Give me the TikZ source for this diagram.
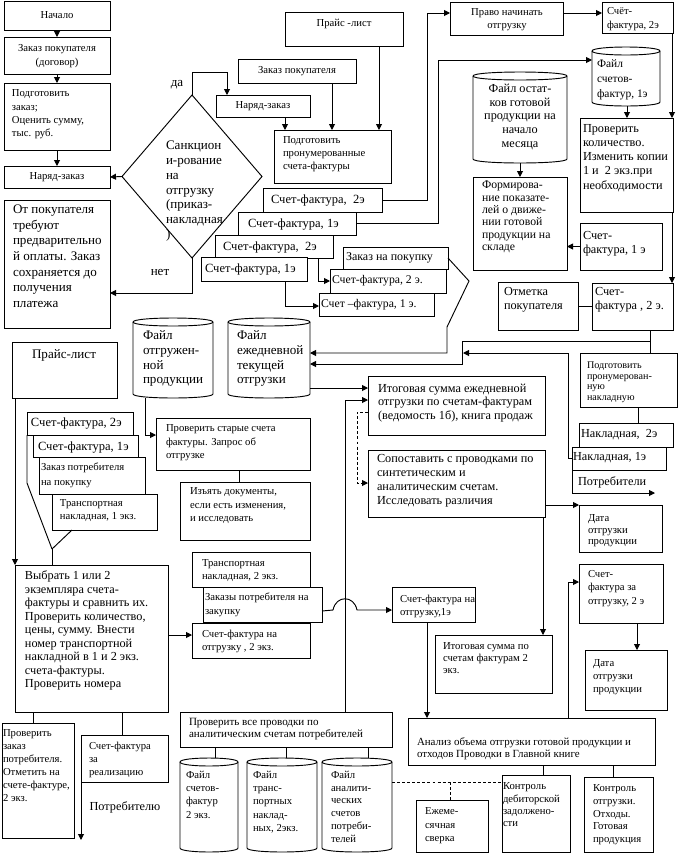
\documentclass[tikz,border=0pt]{standalone}
\usepackage{fontspec}
\setmainfont{Liberation Serif}
\usetikzlibrary{arrows.meta,shapes.geometric}
\newcommand\F[2]{\fontsize{#1}{#2}\selectfont}
\newcommand\bx[5]{\node[bx,minimum width={(#4-#2)*0.75pt},minimum height={(#5-#3)*0.75pt}] (#1) at (#2,#3) {};}
\newcommand\cyl[5]{%
  \node[cb,minimum width={(#4-#2)*0.75pt},minimum height={(#5-#3)*0.75pt}] (#1) at (#2,#3) {};
  \draw[ln,fill=white] (#2,#3+4) -- (#2,#5-4) .. controls (#2,#5+1.33) and (#4,#5+1.33) .. (#4,#5-4) -- (#4,#3+4) .. controls (#4,#3-1.33) and (#2,#3-1.33) .. (#2,#3+4);
  \draw[ln] (#2,#3+4) .. controls (#2,#3+9.33) and (#4,#3+9.33) .. (#4,#3+4);
}
\newcommand\tx[5]{\node[tx,font=#1] (#2) at (#3,#4) {#5};}
\newcommand\ct[5]{\node[ctx,font=#1] (#2) at (#3,#4) {#5};}
\newcommand\tw[5]{\node[tx,anchor=west,font=#1] (#2) at (#3,#4) {#5};}
\begin{document}
\begin{tikzpicture}[x=0.75pt,y=-0.75pt,
  ln/.style={line width=0.7pt},
  bx/.style={draw,fill=white,line width=0.7pt,inner sep=0,outer sep=0,anchor=north west},
  cb/.style={inner sep=0,outer sep=0,anchor=north west},
  tx/.style={inner sep=0,outer sep=0,anchor=north west,align=left},
  ctx/.style={inner sep=0,outer sep=0,anchor=center,align=center},
  arr/.style={line width=0.7pt,-{Triangle[length=4.5pt,width=4.5pt]}},
  dsh/.style={line width=0.7pt,dash pattern=on 2.2pt off 1.6pt}]
\useasboundingbox (0,0) rectangle (678,854);
\fill[white] (0,0) rectangle (678,854);

% ---------- boxes ----------
\bx{nacalo}{4}{1}{110}{30}
\bx{zak1}{4}{37}{110}{74}
\bx{podg1}{4}{83}{110}{150}
\bx{nar1}{4}{166}{110}{188}
\bx{otpok}{4}{200}{110}{328}
\node[diamond,draw,fill=white,line width=0.7pt,inner sep=0,outer sep=0,minimum width=105pt,minimum height=122.25pt] (dia) at (192,176.5) {};
\bx{nar2}{216}{95}{310}{117}
\bx{zak2}{238}{59}{356}{83}
\bx{price1}{285}{12}{403}{46}
\bx{podg2}{274}{130}{391}{183}
\bx{a1}{263}{188}{382}{212}
\bx{a2}{238}{212}{356}{235}
\bx{a3}{215}{235}{333}{258}
\bx{a4}{201}{257}{307}{281}
\bx{b1}{343}{247}{448}{269}
\bx{b2}{330}{269}{446}{293}
\bx{b3}{319}{293}{434}{316}
\bx{pravo}{450}{2}{563}{35}
\bx{sf2top}{602}{2}{673}{33}
\cyl{fsf}{592}{47}{660}{106}
\cyl{fost}{473}{72}{567}{163}
\bx{form}{473}{177}{567}{270}
\bx{provkol}{580}{118}{673}{212}
\bx{sf1r}{580}{223}{662}{270}
\bx{otm}{498}{282}{578}{330}
\bx{sf2low}{592}{283}{673}{330}
\bx{podgnak}{580}{353}{677}{407}
\bx{nak2}{579}{423}{673}{447}
\bx{nak1}{572}{447}{666}{470}
\bx{data1}{579}{505}{662}{552}
\cyl{fo}{133}{318}{213}{398}
\cyl{fe}{228}{318}{310}{398}
\bx{itog1}{368}{376}{545}{435}
\bx{sopost}{368}{450}{545}{517}
\bx{price2}{12}{342}{117}{398}
\bx{c1}{27}{412}{133}{435}
\bx{c2}{33}{435}{138}{457}
\bx{c3}{39}{457}{145}{494}
\bx{c4}{52}{494}{157}{530}
\bx{check}{156}{418}{310}{470}
\bx{izyat}{180}{482}{310}{540}
\bx{tn2}{192}{552}{310}{587}
\bx{zakazy}{203}{587}{322}{622}
\bx{sfo2}{192}{623}{310}{658}
\bx{vib}{15}{565}{168}{712}
\bx{provzak}{2}{723}{74}{838}
\bx{sfreal}{81}{735}{168}{782}
\bx{provall}{180}{712}{392}{747}
\cyl{fa1}{180}{758}{238}{852}
\cyl{fa2}{247}{758}{317}{852}
\cyl{fa3}{322}{758}{392}{852}
\bx{ezh}{416}{800}{488}{852}
\bx{kdeb}{502}{775}{570}{852}
\bx{kotgr}{584}{777}{653}{852}
\bx{analiz}{408}{718}{655}{765}
\bx{itog2}{435}{635}{552}{693}
\bx{sf1e}{392}{587}{475}{622}
\bx{sfotgr}{579}{564}{663}{623}
\bx{data2}{585}{650}{667}{710}

\coordinate (j1) at (650,341);
\coordinate (j2) at (463,353);
\coordinate (j3) at (52,549);
\coordinate (j4) at (450,782);
\coordinate (potr) at (81,840);
\coordinate (potr2) at (655,493);

% ---------- connectors ----------
\draw[arr] (nacalo.south) -- (zak1.north);
\draw[arr] (zak1.south) -- (podg1.north);
\draw[arr] (podg1.south) -- (nar1.north);
\draw[arr] (dia.west) -- (nar1.east);
\draw[arr] (dia.north) |- (227,72) -- (nar2.north -| 227,0);
\draw[arr] (dia.south) |- (otpok.east |- 0,293);
\draw[arr] (nar2.south -| 285,0) -- (podg2.north -| 285,0);
\draw[arr] (zak2.south -| 332,0) -- (podg2.north -| 332,0);
\draw[arr] (price1.south -| 379,0) -- (podg2.north -| 379,0);
\draw[arr] (a1.east) -| (427,13) -- (pravo.west |- 0,13);
\draw[arr] (pravo.east |- 0,13) -- (sf2top.west |- 0,13);
\draw[arr] (a2.east) -| (438,60) -- (fsf.west |- 0,60);
\draw[arr] (a3.south -| 318,0) |- (b2.west);
\draw[arr] (a4.south -| 285,0) |- (b3.west |- 0,306);
\draw[arr] (b1.east) -- (469,281) -- (447,327) -- (447,353) -- (fe.east |- 0,353);
\draw[ln] (sf2low.south -| j1) -- (podgnak.north -| j1);
\draw[arr] (j1) -| (462,364) -- (fe.east |- 0,364);
\draw[arr] (nak1.west) -| (568,353) -- (j2);
\draw[arr] (fe.east |- 0,388) -- (itog1.west |- 0,388);
\draw[arr] (provall.north -| 345,0) |- (itog1.west |- 0,400);
\draw[arr,dsh] (itog1.west |- 0,412) -| (357,483) -- (sopost.west |- 0,483);
\draw[arr] (sopost.east |- 0,505) -- (data1.west |- 0,505);
\draw[arr] (sopost.south -| 543,0) -- (itog2.north -| 543,0);
\draw[arr] (analiz.north -| 568,0) |- (sfotgr.west |- 0,582);
\draw[arr] (sfotgr.south -| 637,0) -- (data2.north -| 637,0);
\draw[arr] (sf1e.south -| 427,0) -- (analiz.north -| 427,0);
\draw[arr] (zakazy.east |- 0,611) -- (333,610) .. controls (336,595) and (354,595) .. (357,610) -- (sf1e.west |- 0,610);
\draw[arr] (vib.east |- 0,635) -- (sfo2.west |- 0,635);
\draw[arr] (price2.south -| 15,0) -- (vib.north -| 15,0);
\draw[ln] (c1.south west) -- (27,483) -- (j3);
\draw[ln] (c4.south -| 72,0) -- (j3);
\draw[ln] (j3) -- (vib.north -| j3);
\draw[arr] (fo.south -| 145,0) |- (check.west |- 0,435);
\draw[ln] (check.south -| 239,0) -- (izyat.north -| 239,0);
\draw[ln] (vib.south -| 33,0) -- (provzak.north -| 33,0);
\draw[ln] (vib.south -| 122,0) -- (sfreal.north -| 122,0);
\draw[arr] (sfreal.south west) -- (potr);
\draw[ln] (provall.south -| 215,0) -- (fa1.north -| 215,0);
\draw[ln] (provall.south -| 286,0) -- (fa2.north -| 286,0);
\draw[ln] (provall.south -| 368,0) -- (fa3.north -| 368,0);
\draw[dsh] (fa3.east |- 0,782) -- (kdeb.west |- 0,782);
\draw[dsh] (j4) -- (ezh.north -| j4);
\draw[ln] (analiz.south -| 543,0) -- (kdeb.north -| 543,0);
\draw[ln] (analiz.south -| 613,0) -- (kotgr.north -| 613,0);
\draw[arr] (fsf.south -| 627,0) -- (provkol.north -| 627,0);
\draw[arr] (sf2top.south -| 672,0) -- (provkol.north -| 672,0);
\draw[arr] (provkol.south -| 672,0) -- (sf2low.north -| 672,0);
\draw[arr] (fost.south) -- (form.north);
\draw[arr] (sf1r.west) -- (form.east |- sf1r.west);
\draw[ln] (otm.east |- 0,306) -- (sf2low.west |- 0,306);
\draw[ln] (podgnak.south -| 638,0) -- (nak2.north -| 638,0);
\draw[arr] (nak1.south west) |- (potr2);

% ---------- texts ----------
\ct{\F{8}{9.75}}{nacalot}{57}{15}{Начало}
\ct{\F{8}{11}}{zak1t}{57}{56}{Заказ покупателя\\(договор)}
\tx{\F{8}{10}}{podg1t}{12}{90}{Подготовить\\заказ;\\Оценить сумму,\\тыс. руб.}
\ct{\F{8}{9.75}}{nar1t}{57}{177}{Наряд-заказ}
\tx{\F{9.8}{11.7}}{otpokt}{13}{205}{От покупателя\\требуют\\предварительно\\й оплаты. Заказ\\сохраняется до\\получения\\платежа}
\tx{\F{9.8}{11.1}}{diat}{166}{141}{Санкцион\\и-рование\\на\\отгрузку\\(приказ-\\накладная\\)}
\ct{\F{9.8}{11}}{da}{177}{85}{да}
\ct{\F{9.8}{11}}{net}{160}{272}{нет}
\ct{\F{8}{9.75}}{nar2t}{263}{106}{Наряд-заказ}
\ct{\F{8}{9.75}}{zak2t}{297}{71}{Заказ покупателя}
\ct{\F{8}{9.75}}{price1t}{344}{24}{Прайс -лист}
\tx{\F{8}{9.4}}{podg2t}{283}{137}{Подготовить\\пронумерованные\\счета-фактуры}
\tw{\F{9.4}{11}}{a1t}{271}{200}{Счет-фактура,~~2э}
\tw{\F{9.4}{11}}{a2t}{248}{224}{Счет-фактура, 1э}
\tw{\F{9.4}{11}}{a3t}{223}{247}{Счет-фактура,~~2э}
\tw{\F{9.4}{11}}{a4t}{205}{269}{Счет-фактура, 1э}
\tw{\F{9}{11}}{b1t}{346}{258}{Заказ на покупку}
\tw{\F{8.8}{11}}{b2t}{332}{281}{Счет-фактура, 2 э.}
\tw{\F{8.8}{11}}{b3t}{321}{305}{Счет –фактура, 1 э.}
\ct{\F{8}{9.75}}{pravot}{507}{19.5}{Право начинать\\отгрузку}
\tx{\F{8}{10.5}}{sf2topt}{607}{7}{Счёт-\\фактура, 2э}
\tx{\F{8.6}{11}}{fsft}{597}{60}{Файл\\счетов-\\фактур, 1э}
\node[tx,anchor=north,align=center,font=\F{9.2}{10.3}] (fostt) at (520,84) {Файл остат-\\ков готовой\\продукции на\\начало\\месяца};
\tx{\F{8.8}{9.3}}{formt}{482}{181}{Формирова-\\ние показате-\\лей о движе-\\нии готовой\\продукции на\\складе}
\tx{\F{9.2}{10.7}}{provkolt}{583}{124}{Проверить\\количество.\\Изменить копии\\1 и~~2 экз.при\\необходимости}
\tx{\F{9.2}{11}}{sf1rt}{583}{231}{Счет-\\фактура, 1 э}
\tx{\F{9.2}{10.5}}{otmt}{504}{287}{Отметка\\покупателя}
\tx{\F{9.2}{10.5}}{sf2lowt}{595}{287}{Счет-\\фактура , 2 э.}
\tx{\F{7.6}{7.9}}{podgnakt}{587}{362}{Подготовить\\пронумерован-\\ную\\накладную}
\tw{\F{9.2}{11}}{nak2t}{581}{435}{Накладная,~~2э}
\tw{\F{9.2}{11}}{nak1t}{573}{458}{Накладная, 1э}
\tw{\F{9.2}{11}}{potrt2}{578}{482}{Потребители}
\tx{\F{8}{8.4}}{data1t}{588}{515}{Дата\\отгрузки\\продукции}
\tx{\F{9.8}{10.9}}{fot}{143}{331}{Файл\\отгружен-\\ной\\продукции}
\tx{\F{9.8}{10.9}}{fet}{237}{331}{Файл\\ежедневной\\текущей\\отгрузки}
\tx{\F{9.2}{10.1}}{itog1t}{378}{384}{Итоговая сумма ежедневной\\отгрузки по счетам-фактурам\\(ведомость 1б), книга продаж}
\tx{\F{9.2}{10.7}}{sopostt}{377}{454}{Сопоставить с проводками по\\синтетическим и\\аналитическим счетам.\\Исследовать различия}
\ct{\F{9.8}{11}}{price2t}{64}{355}{Прайс-лист}
\tw{\F{9.4}{11}}{c1t}{31}{423}{Счет-фактура, 2э}
\tw{\F{9.4}{11}}{c2t}{38}{447}{Счет-фактура, 1э}
\tx{\F{8}{11}}{c3t}{41}{463}{Заказ потребителя\\на покупку}
\tx{\F{8}{9.75}}{c4t}{60}{500}{Транспортная\\накладная, 1 экз.}
\tx{\F{8}{10.1}}{checkt}{166}{425}{Проверить старые счета\\фактуры. Запрос об\\отгрузке}
\tx{\F{8}{10.1}}{izyatt}{190}{488}{Изъять документы,\\если есть изменения,\\и исследовать}
\tx{\F{8}{9.75}}{tn2t}{202}{560}{Транспортная\\накладная, 2 экз.}
\tx{\F{8}{10.5}}{zakazyt}{205}{593}{Заказы потребителя на\\закупку}
\tx{\F{8}{9.75}}{sfo2t}{202}{630}{Счет-фактура на\\отгрузку , 2 экз.}
\tx{\F{9.2}{10.1}}{vibt}{25}{571}{Выбрать 1 или 2\\экземпляра счета-\\фактуры и сравнить их.\\Проверить количество,\\цены, сумму. Внести\\номер транспортной\\накладной в 1 и 2 экз.\\счета-фактуры.\\Проверить номера}
\tx{\F{8}{9.75}}{provzakt}{3}{730}{Проверить\\заказ\\потребителя.\\Отметить на\\счете-фактуре,\\2 экз.}
\tx{\F{8}{9.75}}{sfrealt}{89}{742}{Счет-фактура\\за\\реализацию}
\ct{\F{9.2}{11}}{potrt1}{125}{807}{Потребителю}
\tx{\F{8.3}{9}}{provallt}{189}{718}{Проверить все проводки по\\аналитическим счетам потребителей}
\tx{\F{8}{10}}{fa1t}{186}{771}{Файл\\счетов-\\фактур\\2 экз.}
\tx{\F{8}{10}}{fa2t}{253}{771}{Файл\\транс-\\портных\\наклад-\\ных, 2экз.}
\tx{\F{8}{9.6}}{fa3t}{331}{771}{Файл\\аналити-\\ческих\\счетов\\потреби-\\телей}
\tx{\F{8}{10}}{ezht}{425}{808}{Ежеме-\\сячная\\сверка}
\tx{\F{8}{9.2}}{kdebt}{503}{783}{Контроль\\дебиторской\\задолжено-\\сти}
\tx{\F{8}{9.4}}{kotgrt}{593}{785}{Контроль\\отгрузки.\\Отходы.\\Готовая\\продукция}
\tx{\F{8.2}{9}}{analizt}{417}{738}{Анализ объема отгрузки готовой продукции и\\отходов Проводки в Главной книге}
\tx{\F{8}{9}}{itog2t}{443}{643}{Итоговая сумма по\\счетам фактурам 2\\экз.}
\tx{\F{8}{9.75}}{sf1et}{400}{595}{Счет-фактура на\\отгрузку,1э}
\tx{\F{8}{10.1}}{sfotgrt}{588}{570}{Счет-\\фактура за\\отгрузку, 2 э}
\tx{\F{8}{9.4}}{data2t}{593}{660}{Дата\\отгрузки\\продукции}
\end{tikzpicture}
\end{document}
